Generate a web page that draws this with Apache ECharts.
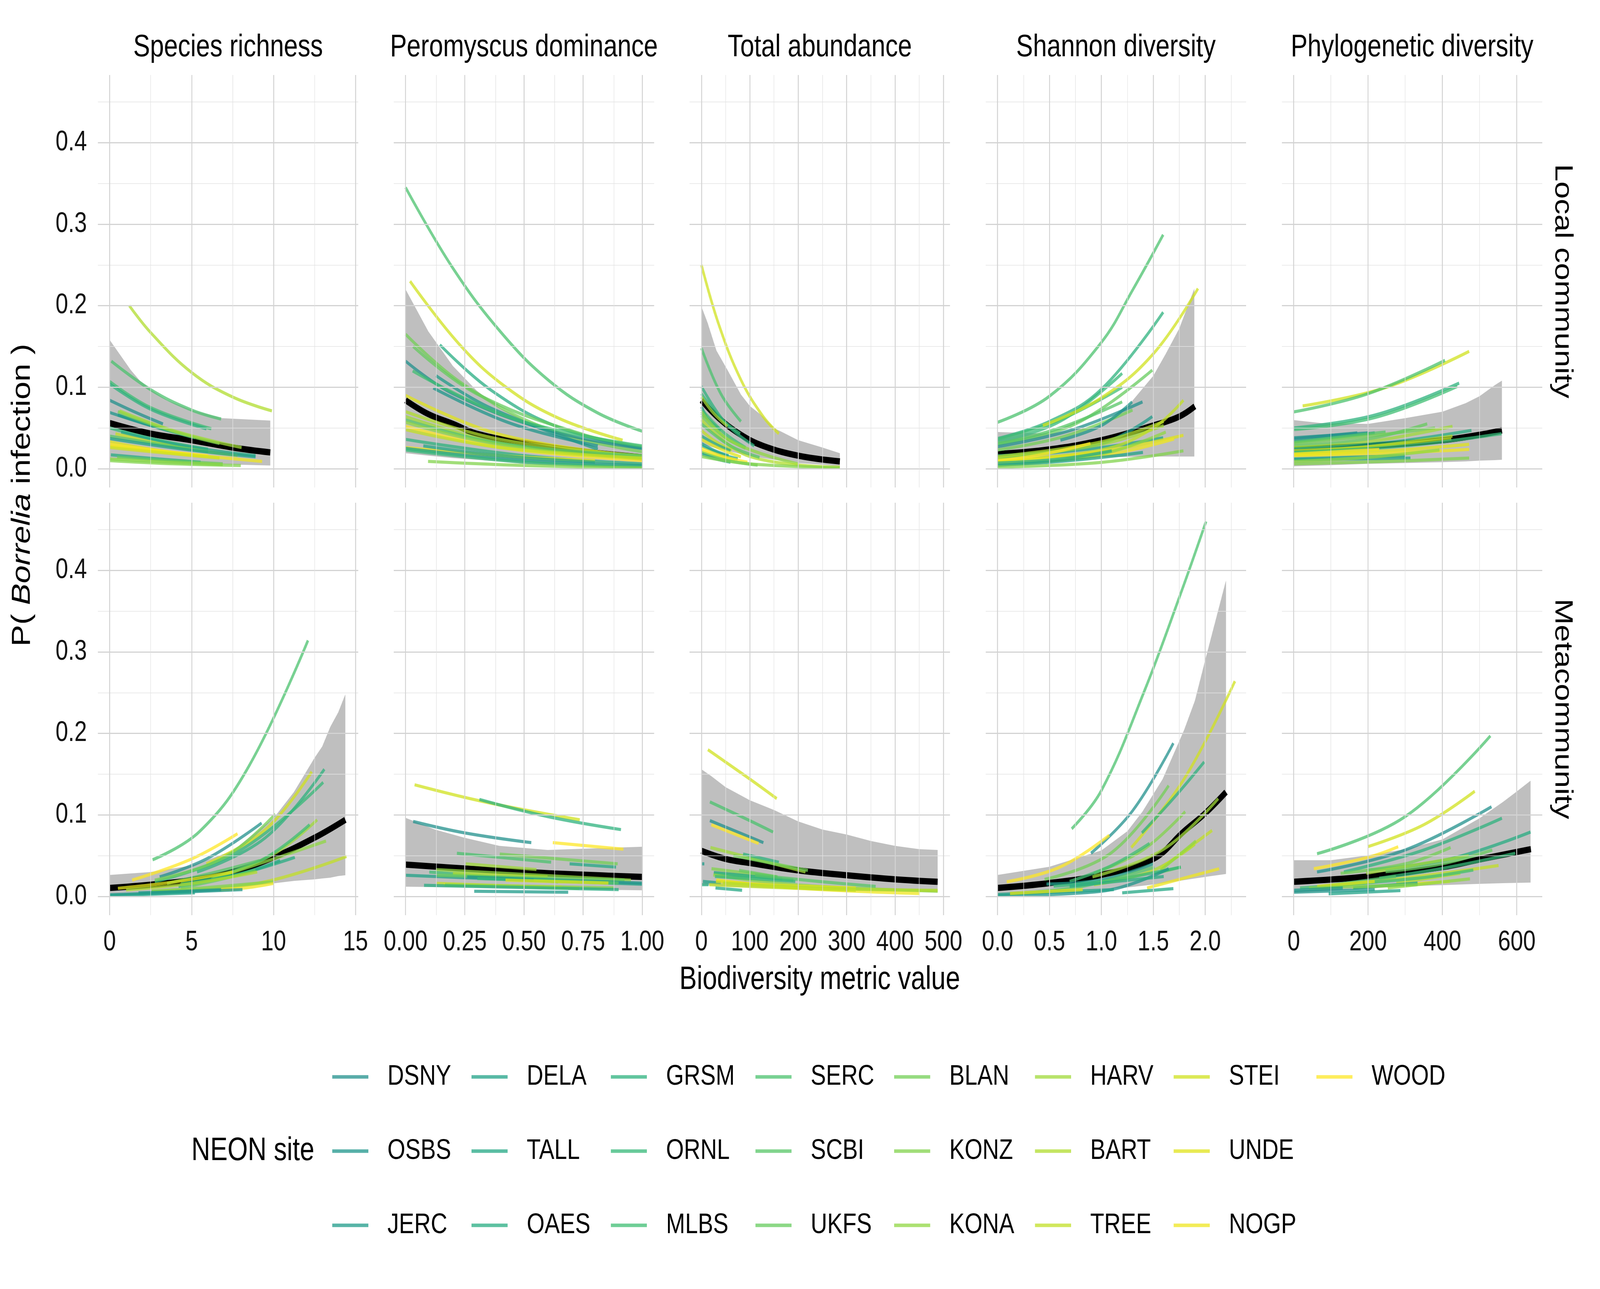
<!DOCTYPE html>
<html><head><meta charset="utf-8">
<script src="https://cdn.jsdelivr.net/npm/echarts@6/dist/echarts.min.js"></script>
<style>html,body{margin:0;padding:0;background:#fff;overflow:hidden}#wrap{position:absolute;left:0;top:0;overflow:hidden}#c{width:5100px;height:3300px;transform-origin:0 0}</style>
</head><body><div id="wrap"><div id="c"></div></div>
<script>
const sites = ['DSNY','OSBS','JERC','DELA','TALL','OAES','GRSM','ORNL','MLBS','SERC','SCBI','UKFS','BLAN','KONZ','KONA','HARV','BART','TREE','STEI','UNDE','NOGP','WOOD'];
const metrics = ['Species richness','Peromyscus dominance','Total abundance','Shannon diversity','Phylogenetic diversity'];
const scaleNames = ['Local community','Metacommunity'];
const xTickLabels = [[0,5,10,15],[0,0.25,0.5,0.75,1],[0,100,200,300,400,500],[0,0.5,1,1.5,2],[0,200,400,600]];
const xMinorTicks = [[2.5,7.5,12.5],[0.125,0.375,0.625,0.875],[50,150,250,350,450],[0.25,0.75,1.25,1.75,2.25],[100,300,500]];
const xRanges = [[-0.72,15.17],[-0.05,1.05],[-24.5,513.5],[-0.114,2.394],[-31.8,668.6]];
const yTickLabels = [0,0.1,0.2,0.3,0.4];
const yMinorTicks = [0.05,0.15,0.25,0.35,0.45];
const yRange = [-0.023,0.483];

// ---------------- Local community ----------------
const lrBand = [[0,0.012,0.158],[1.29,0.011,0.121],[1.84,0.0105,0.108],[2.5,0.010,0.097],[3.5,0.009,0.084],[5,0.007,0.072],[6.83,0.0055,0.062],[9.8,0.004,0.059]];
const lrMean = [[0,0.056],[2.5,0.043],[5,0.035],[7.5,0.026],[9.8,0.020]];
const lrLines = [
 ['BART',[1.2,0.200],[2.5,0.167],[5,0.118],[7.5,0.088],[9.9,0.071]],
 ['SERC',[0.1,0.132],[2.5,0.097],[5,0.072],[6.8,0.061]],
 ['MLBS',[0,0.107],[2.5,0.075],[6.2,0.049]],
 ['GRSM',[0,0.104],[2.5,0.073],[5.9,0.049]],
 ['ORNL',[0,0.050],[3,0.035],[6,0.024]],
 ['DSNY',[0,0.084],[1.6,0.069],[3.25,0.055]],
 ['OSBS',[0,0.069],[2,0.056],[3.6,0.047]],
 ['JERC',[0.5,0.066],[3,0.050],[5.2,0.038]],
 ['BLAN',[0.5,0.070],[3.5,0.048],[6.7,0.031]],
 ['HARV',[0.6,0.071],[4,0.046],[8.05,0.026]],
 ['TALL',[0.7,0.045],[4.5,0.028],[8.9,0.016]],
 ['TREE',[0.35,0.043],[4,0.027],[7.8,0.016]],
 ['SCBI',[0,0.040],[3,0.030],[6,0.021]],
 ['DELA',[0,0.037],[4.5,0.024],[8.9,0.0146]],
 ['UNDE',[0,0.033],[2.5,0.024],[5.5,0.016]],
 ['WOOD',[0,0.030],[3,0.022],[6,0.016]],
 ['NOGP',[0,0.028],[4.5,0.018],[9.3,0.009]],
 ['STEI',[0,0.026],[3.5,0.019],[6.7,0.013]],
 ['OAES',[0.07,0.017],[3,0.012],[5.55,0.008]],
 ['UKFS',[0.45,0.014],[3.5,0.010],[6.9,0.006]],
 ['KONA',[0,0.012],[3.5,0.008],[6.9,0.005]],
 ['KONZ',[0,0.010],[4,0.006],[8.0,0.004]]
];
const lpBand = [[0,0.019,0.220],[0.096,0.016,0.1685],[0.2,0.013,0.126],[0.3,0.011,0.096],[0.4,0.009,0.074],[0.5,0.006,0.060],[0.69,0.004,0.040],[1.0,0.001,0.025]];
const lpMean = [[0,0.084],[0.096,0.067],[0.2,0.055],[0.3,0.043],[0.5,0.0315],[0.69,0.023],[1.0,0.014]];
const lpLines = [
 ['SERC',[0,0.345],[0.2,0.246],[0.404,0.167],[0.606,0.108],[0.808,0.069],[1.0,0.046]],
 ['STEI',[0.019,0.230],[0.226,0.153],[0.42,0.101],[0.646,0.062],[0.917,0.035]],
 ['OAES',[0.145,0.152],[0.363,0.096],[0.646,0.051],[1,0.025]],
 ['BLAN',[0,0.165],[0.242,0.104],[0.606,0.048],[1,0.021]],
 ['UKFS',[0.032,0.150],[0.3,0.092],[0.75,0.042],[1,0.027]],
 ['DSNY',[0,0.132],[0.2,0.092],[0.606,0.047],[1,0.025]],
 ['JERC',[0.129,0.114],[0.363,0.074],[0.812,0.024]],
 ['OSBS',[0.117,0.099],[0.45,0.055],[0.812,0.028]],
 ['MLBS',[0.03,0.120],[0.45,0.062],[1,0.028]],
 ['UNDE',[0,0.090],[0.4,0.042],[1,0.015]],
 ['BART',[0,0.070],[0.4,0.036],[1,0.016]],
 ['HARV',[0,0.064],[0.4,0.032],[1,0.013]],
 ['SCBI',[0,0.060],[0.4,0.031],[1,0.016]],
 ['KONA',[0,0.057],[0.4,0.029],[1,0.012]],
 ['WOOD',[0,0.052],[0.4,0.026],[1,0.010]],
 ['TREE',[0,0.048],[0.4,0.026],[1,0.013]],
 ['GRSM',[0,0.036],[0.5,0.016],[1,0.006]],
 ['NOGP',[0,0.026],[0.4,0.016],[0.8,0.010]],
 ['TALL',[0.075,0.028],[0.4,0.016],[0.8,0.008]],
 ['DELA',[0,0.025],[0.5,0.010],[1,0.004]],
 ['ORNL',[0,0.023],[0.5,0.008],[1,0.002]],
 ['KONZ',[0.095,0.009],[0.5,0.004],[1,0.001]]
];
const laBand = [[0,0.030,0.199],[12.8,0.028,0.179],[31,0.025,0.145],[54,0.022,0.121],[81.6,0.018,0.091],[100,0.016,0.077],[127.5,0.013,0.064],[150,0.011,0.050],[200,0.007,0.035],[250,0.005,0.026],[286,0.003,0.019]];
const laMean = [[0,0.084],[35.8,0.062],[81.6,0.0416],[127.5,0.028],[200,0.016],[286,0.009]];
const laLines = [
 ['STEI',[0,0.250],[35.8,0.177],[81.6,0.109],[127.5,0.064],[160,0.043]],
 ['SERC',[0,0.148],[40,0.092],[81.6,0.058]],
 ['GRSM',[0,0.101],[50,0.056],[109,0.028]],
 ['ORNL',[0,0.092],[40,0.062],[80,0.043]],
 ['HARV',[0,0.088],[25,0.068],[54,0.052]],
 ['DSNY',[0,0.076],[12.8,0.060]],
 ['OSBS',[0,0.068],[20,0.057],[40,0.047]],
 ['MLBS',[0,0.073],[45,0.045],[91,0.026]],
 ['BLAN',[0,0.065],[45,0.040],[91,0.025]],
 ['KONA',[0,0.070],[60,0.034],[200,0.006]],
 ['BART',[0,0.060],[100,0.015],[286,0.002]],
 ['SCBI',[0,0.055],[60,0.028],[120,0.014]],
 ['TREE',[0,0.047],[30,0.033],[63,0.023]],
 ['OAES',[0,0.040],[30,0.030],[60,0.022]],
 ['UNDE',[0,0.036],[40,0.024],[81.6,0.0146]],
 ['JERC',[0,0.031],[28,0.022],[56,0.016]],
 ['TALL',[0,0.028],[40,0.018],[75,0.012]],
 ['WOOD',[0,0.025],[45,0.015],[95,0.008]],
 ['NOGP',[0,0.022],[35,0.015],[70,0.010]],
 ['UKFS',[0,0.020],[55,0.010],[116,0.0044]],
 ['DELA',[0,0.018],[30,0.012],[60,0.008]],
 ['KONZ',[0,0.015],[100,0.006],[286,0.001]]
];
const lsBand = [[0,0.013,0.045],[0.5,0.013,0.043],[1.0,0.014,0.053],[1.257,0.0145,0.077],[1.5,0.015,0.114],[1.62,0.015,0.141],[1.75,0.015,0.172],[1.895,0.015,0.221]];
const lsMean = [[0,0.018],[0.5,0.0237],[1.0,0.035],[1.5,0.053],[1.75,0.064],[1.9,0.0765]];
const lsLines = [
 ['SERC',[0,0.057],[0.5,0.089],[1.0,0.155],[1.3,0.219],[1.595,0.287]],
 ['GRSM',[0,0.037],[0.5,0.058],[1.0,0.0975],[1.595,0.192]],
 ['ORNL',[0,0.033],[0.6,0.058],[1.2,0.117]],
 ['MLBS',[0,0.036],[0.6,0.060],[1.2,0.100]],
 ['STEI',[0.436,0.053],[1.0,0.087],[1.5,0.141],[1.93,0.221]],
 ['UKFS',[0,0.031],[0.75,0.055],[1.49,0.121]],
 ['BLAN',[0,0.023],[0.65,0.040],[1.3,0.072]],
 ['SCBI',[0,0.030],[0.6,0.050],[1.2,0.082]],
 ['DSNY',[0,0.027],[0.7,0.047],[1.396,0.082]],
 ['OSBS',[0.605,0.035],[1.0,0.053],[1.296,0.082]],
 ['JERC',[0,0.016],[1.0,0.031],[1.49,0.064]],
 ['TALL',[0,0.0135],[1.0,0.026],[1.595,0.038]],
 ['HARV',[0,0.013],[1.0,0.030],[1.6,0.053]],
 ['BART',[0,0.015],[1.0,0.033],[1.6,0.058]],
 ['TREE',[0,0.011],[1.0,0.023],[1.5,0.050],[1.79,0.084]],
 ['WOOD',[0,0.0095],[0.45,0.018],[0.894,0.031]],
 ['UNDE',[0,0.008],[1.0,0.021],[1.79,0.041]],
 ['NOGP',[0,0.006],[1.0,0.016],[1.70,0.0365]],
 ['KONA',[0,0.0044],[1.0,0.018],[1.62,0.045]],
 ['OAES',[0,0.007],[0.6,0.012],[1.1,0.022]],
 ['DELA',[0,0.004],[0.7,0.010],[1.4,0.020]],
 ['KONZ',[0,0.002],[1.0,0.0078],[1.79,0.022]]
];
const lphBand = [[0,0.003,0.0596],[75,0.004,0.056],[200,0.006,0.055],[300,0.007,0.062],[400,0.008,0.070],[463,0.009,0.0805],[500,0.010,0.089],[541,0.0105,0.1025],[560,0.011,0.108]];
const lphMean = [[0,0.0237],[200,0.028],[400,0.035],[500,0.0416],[560,0.047]];
const lphLines = [
 ['STEI',[24,0.077],[250,0.100],[472,0.144]],
 ['SERC',[0,0.0697],[200,0.092],[407,0.133]],
 ['GRSM',[0,0.050],[220,0.066],[445,0.105]],
 ['MLBS',[0,0.048],[220,0.063],[440,0.101]],
 ['OSBS',[0,0.038],[100,0.041],[200,0.044]],
 ['DSNY',[0,0.0365],[171,0.044]],
 ['JERC',[0,0.033],[218,0.044]],
 ['SCBI',[0,0.0325],[247,0.045]],
 ['BLAN',[0,0.031],[200,0.040],[380,0.050]],
 ['UKFS',[0,0.028],[200,0.0365],[359,0.055]],
 ['HARV',[0,0.026],[200,0.033],[427,0.052]],
 ['OAES',[0,0.024],[250,0.032],[478,0.047]],
 ['TREE',[0,0.022],[200,0.027],[424,0.0365]],
 ['BART',[0,0.020],[200,0.027],[427,0.040]],
 ['ORNL',[0,0.020],[300,0.028],[559,0.043]],
 ['WOOD',[0,0.018],[230,0.0237]],
 ['UNDE',[0,0.017],[250,0.022],[472,0.030]],
 ['NOGP',[0,0.016],[250,0.019],[472,0.0237]],
 ['DELA',[0,0.012],[150,0.014],[300,0.016]],
 ['TALL',[0,0.011],[314,0.013]],
 ['KONA',[0,0.009],[200,0.014],[392,0.023]],
 ['KONZ',[0,0.006],[250,0.009],[472,0.013]]
];

// ---------------- Metacommunity ----------------
const mrBand = [[0,0.001,0.0264],[2.5,0.003,0.030],[5,0.006,0.038],[7.5,0.010,0.056],[10,0.016,0.096],[11.24,0.019,0.128],[12.5,0.021,0.170],[12.97,0.022,0.184],[13.46,0.023,0.208],[13.95,0.025,0.226],[14.38,0.026,0.248]];
const mrMean = [[0,0.0104],[2.5,0.0144],[5,0.020],[7.5,0.030],[10,0.048],[12.5,0.072],[14.38,0.094]];
const mrLines = [
 ['SERC',[2.62,0.045],[5.5,0.080],[8.5,0.160],[12.1,0.314]],
 ['WOOD',[1.37,0.020],[5,0.046],[7.8,0.077]],
 ['DSNY',[3.05,0.024],[6,0.047],[9.27,0.090]],
 ['STEI',[5.9,0.040],[9.5,0.082],[12.33,0.153]],
 ['GRSM',[5.33,0.030],[9.5,0.072],[13.1,0.156]],
 ['ORNL',[2.75,0.018],[8,0.057],[13.03,0.140]],
 ['BLAN',[2.75,0.020],[7,0.048],[10.1,0.101]],
 ['HARV',[6.3,0.022],[10,0.052],[12.66,0.094]],
 ['MLBS',[4.35,0.016],[9,0.042],[12.2,0.088]],
 ['KONA',[6.2,0.021],[10,0.046],[13.2,0.068]],
 ['SCBI',[3.5,0.016],[6.5,0.030],[9.15,0.044]],
 ['TALL',[4.3,0.0144],[8,0.028],[10.4,0.044]],
 ['OAES',[4.2,0.0124],[8,0.028],[11.3,0.048]],
 ['UKFS',[4.35,0.0104],[7,0.022],[8.9,0.032]],
 ['UNDE',[0.5,0.010],[4,0.018],[7.5,0.030]],
 ['BART',[1.0,0.008],[5,0.016],[9,0.030]],
 ['TREE',[2.56,0.0064],[9,0.016],[14.45,0.049]],
 ['KONZ',[2.56,0.0064],[6,0.011],[10,0.018]],
 ['NOGP',[6.7,0.008],[8.5,0.011],[10,0.016]],
 ['JERC',[1.76,0.0044],[4,0.006],[6.8,0.0084]],
 ['OSBS',[0,0.002],[4,0.005],[8.1,0.0084]],
 ['DELA',[0,0.001],[3,0.003],[5.2,0.0044]]
];
const mpBand = [[0,0.012,0.0964],[0.124,0.0115,0.082],[0.249,0.011,0.072],[0.396,0.010,0.062],[0.6,0.009,0.057],[1,0.0076,0.061]];
const mpMean = [[0,0.039],[0.5,0.030],[1,0.024]];
const mpLines = [
 ['STEI',[0.038,0.137],[0.35,0.115],[0.736,0.094]],
 ['GRSM',[0.312,0.119],[0.6,0.098],[0.91,0.082]],
 ['DSNY',[0.032,0.092],[0.249,0.078],[0.531,0.066]],
 ['WOOD',[0.622,0.066],[0.92,0.058]],
 ['SERC',[0.217,0.053],[0.615,0.042]],
 ['BLAN',[0.398,0.052],[0.896,0.040]],
 ['TALL',[0.693,0.040],[0.889,0.036]],
 ['HARV',[0.254,0.040],[0.553,0.033]],
 ['KONA',[0.128,0.033],[0.952,0.020]],
 ['MLBS',[0.1,0.030],[0.644,0.018]],
 ['BART',[0.2,0.028],[0.6,0.024]],
 ['DELA',[0,0.026],[0.5,0.020],[1,0.015]],
 ['UKFS',[0.132,0.026],[0.925,0.020]],
 ['OSBS',[0.26,0.024],[1,0.0164]],
 ['ORNL',[0.303,0.022],[0.729,0.018]],
 ['SCBI',[0.541,0.020],[0.9,0.0164]],
 ['UNDE',[0.422,0.020],[0.857,0.0164]],
 ['TREE',[0.132,0.016],[0.733,0.010]],
 ['NOGP',[0.163,0.0144],[0.66,0.0116]],
 ['KONZ',[0.166,0.0144],[0.878,0.0104]],
 ['OAES',[0.078,0.0136],[0.9,0.0084]],
 ['JERC',[0.29,0.0064],[0.687,0.0052]]
];
const maBand = [[0,0.014,0.156],[19.6,0.0135,0.148],[50,0.012,0.134],[100,0.011,0.118],[150,0.010,0.106],[200,0.009,0.092],[250,0.008,0.082],[300,0.007,0.076],[350,0.0065,0.068],[400,0.006,0.062],[450,0.0055,0.058],[488,0.005,0.057]];
const maMean = [[0,0.056],[50,0.046],[100,0.041],[200,0.032],[300,0.026],[400,0.021],[488,0.018]];
const maLines = [
 ['STEI',[13.3,0.180],[100,0.144],[155.6,0.120]],
 ['SERC',[17.5,0.116],[100,0.093],[148,0.079]],
 ['DSNY',[17.5,0.093],[128,0.066]],
 ['WOOD',[20.4,0.088],[118,0.065]],
 ['HARV',[18.7,0.060],[215,0.030]],
 ['GRSM',[86,0.052],[160,0.042]],
 ['BLAN',[66,0.050],[220,0.032]],
 ['JERC',[0,0.040],[6,0.040]],
 ['KONZ',[20.8,0.034],[157,0.024]],
 ['UKFS',[77.8,0.032],[156.7,0.024]],
 ['OSBS',[25.7,0.0292],[167,0.0212]],
 ['MLBS',[25.7,0.0284],[190,0.020]],
 ['KONA',[24.5,0.0264],[200,0.014],[488,0.0064]],
 ['SCBI',[111,0.0264],[250,0.018],[360,0.0124]],
 ['ORNL',[27.9,0.0244],[100,0.022],[194,0.0184]],
 ['NOGP',[30.8,0.0204],[200,0.010],[451,0.0036]],
 ['DELA',[3,0.0184],[40,0.0164]],
 ['UNDE',[29.9,0.0184],[150,0.014],[319,0.0104]],
 ['BART',[44.5,0.0164],[250,0.010],[488,0.0076]],
 ['TREE',[16.2,0.0144],[150,0.011],[319,0.0076]],
 ['OAES',[0,0.0144],[14.6,0.0144]],
 ['TALL',[29,0.0104],[84,0.0076]]
];
const msBand = [[0,0,0.0264],[0.5,0.004,0.0364],[1.0,0.0084,0.0564],[1.25,0.011,0.080],[1.395,0.013,0.104],[1.59,0.016,0.144],[1.796,0.020,0.204],[1.9,0.022,0.240],[2.0,0.024,0.290],[2.2,0.0276,0.3876]];
const msMean = [[0,0.0104],[0.5,0.0164],[1.0,0.0264],[1.5,0.046],[1.796,0.080],[2.0,0.102],[2.2,0.128]];
const msLines = [
 ['SERC',[0.714,0.083],[1.0,0.130],[1.414,0.252],[1.765,0.372],[2.008,0.46]],
 ['DSNY',[0.9,0.053],[1.3,0.105],[1.693,0.188]],
 ['STEI',[1.288,0.060],[1.796,0.144],[2.286,0.264]],
 ['GRSM',[1.39,0.078],[1.706,0.122],[1.99,0.165]],
 ['WOOD',[0.088,0.018],[0.6,0.036],[1.076,0.075]],
 ['BLAN',[0.453,0.021],[1.1,0.054],[1.648,0.136]],
 ['KONZ',[0.928,0.0284],[1.4,0.057],[1.807,0.104]],
 ['MLBS',[0.694,0.0184],[1.1,0.038],[1.463,0.065]],
 ['HARV',[0.914,0.024],[1.6,0.058],[2.125,0.120]],
 ['BART',[0.928,0.0144],[1.5,0.032],[1.9,0.064]],
 ['TREE',[1.57,0.034],[2.066,0.081]],
 ['KONA',[1.57,0.032],[1.91,0.068]],
 ['UKFS',[1.512,0.028],[1.765,0.036]],
 ['JERC',[0.471,0.0152],[1.0,0.0204],[1.5,0.040]],
 ['ORNL',[0.54,0.0124],[1.1,0.020],[1.765,0.036]],
 ['SCBI',[0.12,0.0036],[0.8,0.012],[1.51,0.036]],
 ['OSBS',[0,0.0012],[1.0,0.0064],[1.648,0.034]],
 ['NOGP',[1.44,0.0104],[2.134,0.034]],
 ['OAES',[0.694,0.0124],[1.6,0.0244]],
 ['TALL',[1.2,0.0044],[1.693,0.0096]],
 ['DELA',[0,0.0024],[1.12,0.0084]],
 ['UNDE',[0.12,0.0036],[0.82,0.0084]]
];
const mphBand = [[0,0.0044,0.0444],[100,0.007,0.0444],[200,0.0097,0.0504],[300,0.0124,0.058],[400,0.0139,0.070],[500,0.0154,0.096],[563,0.0163,0.116],[598,0.0167,0.128],[637,0.017,0.142]];
const mphMean = [[0,0.018],[200,0.0244],[400,0.036],[506,0.046],[638,0.058]];
const mphLines = [
 ['SERC',[62.7,0.0524],[300,0.098],[529,0.197]],
 ['STEI',[199,0.061],[350,0.088],[487,0.129]],
 ['WOOD',[54,0.034],[200,0.048],[281,0.061]],
 ['DSNY',[62.7,0.030],[300,0.057],[532,0.110]],
 ['GRSM',[135,0.030],[350,0.057],[560,0.096]],
 ['OAES',[200,0.0324],[420,0.046],[637,0.079]],
 ['BLAN',[126,0.0284],[300,0.040],[422,0.060]],
 ['HARV',[195,0.0284],[471,0.050]],
 ['UKFS',[247,0.0304],[400,0.040],[534,0.057]],
 ['ORNL',[230,0.0224],[400,0.0344],[596,0.053]],
 ['BART',[276,0.0164],[448,0.0284]],
 ['TREE',[74,0.0104],[400,0.0284],[551,0.038]],
 ['MLBS',[17,0.0104],[333,0.0224],[483,0.0324]],
 ['SCBI',[74,0.0124],[275,0.0244]],
 ['UNDE',[63,0.0124],[218,0.0184]],
 ['NOGP',[158,0.0104],[420,0.0184]],
 ['KONA',[253,0.0104],[474,0.0216]],
 ['TALL',[160,0.0104],[333,0.0164]],
 ['KONZ',[41,0.0104],[333,0.0144]],
 ['JERC',[0,0.0076],[132,0.0104]],
 ['OSBS',[0,0.0052],[218,0.0084]],
 ['DELA',[94,0.0032],[287,0.0072]]
];

const panelBands = [lrBand,lpBand,laBand,lsBand,lphBand,mrBand,mpBand,maBand,msBand,mphBand];
const panelMeans = [lrMean,lpMean,laMean,lsMean,lphMean,mrMean,mpMean,maMean,msMean,mphMean];
const panelLines = [lrLines,lpLines,laLines,lsLines,lphLines,mrLines,mpLines,maLines,msLines,mphLines];

// ---------------- fit the 5100x3300 design to the actual viewport ----------------
const vw = document.documentElement.clientWidth || window.innerWidth || 5100;
const vh = document.documentElement.clientHeight || window.innerHeight || 3300;
const SX = vw/5100, SY = vh/3300;
const wrap = document.getElementById('wrap'), el = document.getElementById('c');
wrap.style.width = vw+'px'; wrap.style.height = vh+'px';
el.style.transform = 'scale('+SX+','+SY+')';

// ---------------- styling / layout ----------------
const FONT = "'Liberation Sans', Arial, Helvetica, sans-serif";
const VIR = ['#440154','#481568','#482677','#453781','#3F4788','#39558C','#32648E','#2D718E','#287D8E','#238A8D','#1F968B','#20A386','#29AF7F','#3CBC75','#56C667','#75D054','#95D840','#BADE28','#DDE318','#FDE725'];
function hexRgb(h){return [1,3,5].map(i=>parseInt(h.substr(i,2),16));}
function viridis(t){const p=t*(VIR.length-1);const i=Math.min(Math.floor(p),VIR.length-2);const f=p-i;const a=hexRgb(VIR[i]),b=hexRgb(VIR[i+1]);return a.map((v,k)=>Math.round(v+(b[k]-v)*f));}
const siteColor = {};
sites.forEach((s,i)=>{const c=viridis(0.5+0.5*i/(sites.length-1));siteColor[s]=`rgba(${c[0]},${c[1]},${c[2]},0.75)`;});

const colLeft = [312,1255,2198,3142,4086];
const rowTop = [192,1287];
const PW = 830, PH = 1056;

const grids=[],xAxes=[],yAxes=[],series=[];
for(let r=0;r<2;r++){
  for(let c=0;c<5;c++){
    const idx=r*5+c;
    grids.push({left:colLeft[c],top:rowTop[r],width:PW,height:PH,containLabel:false});
    const fmtX = c===1?(v=>Number(v).toFixed(2)):(c===3?(v=>Number(v).toFixed(1)):(v=>String(v)));
    const xa = {type:'value',gridIndex:idx,min:xRanges[c][0],max:xRanges[c][1],
      axisLine:{show:false},axisTick:{show:false},splitLine:{show:false},minorSplitLine:{show:false},
      axisLabel:{show:r===1,customValues:xTickLabels[c],formatter:fmtX,fontSize:72,fontFamily:FONT,color:'#111',margin:34}};
    if(idx===7){xa.name='Biodiversity metric value';xa.nameLocation='middle';xa.nameGap=125;xa.nameTextStyle={fontSize:83,fontFamily:FONT,color:'#000'};}
    xAxes.push(xa);
    yAxes.push({type:'value',gridIndex:idx,min:yRange[0],max:yRange[1],
      axisLine:{show:false},axisTick:{show:false},splitLine:{show:false},
      axisLabel:{show:c===0,customValues:yTickLabels,formatter:v=>Number(v).toFixed(1),fontSize:72,fontFamily:FONT,color:'#111',margin:35}});
    const md=[];
    yTickLabels.forEach(v=>md.push({yAxis:v,lineStyle:{color:'#d3d3d3',width:3,type:'solid'}}));
    yMinorTicks.forEach(v=>md.push({yAxis:v,lineStyle:{color:'#e3e3e3',width:1.6,type:'solid'}}));
    xTickLabels[c].forEach(v=>md.push({xAxis:v,lineStyle:{color:'#d3d3d3',width:3,type:'solid'}}));
    xMinorTicks[c].forEach(v=>md.push({xAxis:v,lineStyle:{color:'#e3e3e3',width:1.6,type:'solid'}}));
    series.push({type:'line',name:'grid'+idx,xAxisIndex:idx,yAxisIndex:idx,data:[],silent:true,z:1,
      markLine:{silent:true,symbol:['none','none'],label:{show:false},animation:false,data:md}});
    const band = panelBands[idx];
    series.push({type:'custom',name:'band'+idx,xAxisIndex:idx,yAxisIndex:idx,z:2,silent:true,
      data:band,encode:{x:0,y:[1,2]},
      renderItem:(params,api)=>{
        if(params.dataIndex!==0) return null;
        const up=band.map(d=>api.coord([d[0],d[2]]));
        const lo=band.slice().reverse().map(d=>api.coord([d[0],d[1]]));
        return {type:'polygon',shape:{points:up.concat(lo)},style:{fill:'rgba(127,127,127,0.5)'}};
      }});
    series.push({type:'line',name:'mean'+idx,xAxisIndex:idx,yAxisIndex:idx,z:3,silent:true,
      data:panelMeans[idx],smooth:0.4,showSymbol:false,symbol:'none',
      lineStyle:{color:'#000',width:16,cap:'butt'}});
    panelLines[idx].forEach(row=>{
      const s=row[0];
      series.push({type:'line',name:s,xAxisIndex:idx,yAxisIndex:idx,z:4,silent:true,
        data:row.slice(1),smooth:0.4,showSymbol:false,symbol:'none',
        color:siteColor[s],lineStyle:{color:siteColor[s],width:8,cap:'butt'}});
    });
  }
}

const legendCols=[['DSNY','OSBS','JERC'],['DELA','TALL','OAES'],['GRSM','ORNL','MLBS'],['SERC','SCBI','UKFS'],['BLAN','KONZ','KONA'],['HARV','BART','TREE'],['STEI','UNDE','NOGP'],['WOOD']];
const legendX=[1059,1503,1947,2408,2850,3299,3741,4196];
const legends=legendCols.map((names,i)=>({orient:'vertical',left:legendX[i],top:2717,padding:0,
  itemWidth:115,itemHeight:9,itemGap:110,icon:'rect',selectedMode:false,
  data:names.map(n=>({name:n,itemStyle:{color:siteColor[n]}})),
  textStyle:{fontSize:73,lineHeight:80,color:'#000',fontFamily:FONT,padding:[0,0,0,56]}}));

const graphics=[];
metrics.forEach((m,c)=>graphics.push({type:'text',x:colLeft[c]+PW/2,y:122,silent:true,
  style:{text:m,fontSize:80,fontFamily:FONT,fill:'#000',align:'center',verticalAlign:'middle'}}));
scaleNames.forEach((s,r)=>graphics.push({type:'text',x:4980,y:rowTop[r]+PH/2,rotation:-Math.PI/2,silent:true,
  style:{text:s,fontSize:80,fontFamily:FONT,fill:'#000',align:'center',verticalAlign:'middle'}}));
graphics.push({type:'text',x:72,y:(rowTop[0]+rowTop[1]+PH)/2,rotation:Math.PI/2,silent:true,
  style:{text:'{a|P( }{b|Borrelia}{a| infection )}',align:'center',verticalAlign:'middle',
    rich:{a:{fontSize:83,fontFamily:FONT,fill:'#000'},b:{fontSize:83,fontFamily:FONT,fontStyle:'italic',fill:'#000'}}}});
graphics.push({type:'text',x:610,y:2947,silent:true,
  style:{text:'NEON site',fontSize:83,fontFamily:FONT,fill:'#000',align:'left',verticalAlign:'middle'}});

const dpr = (window.devicePixelRatio||1)*Math.max(SX,SY);
const chart=echarts.init(el,null,{renderer:'canvas',devicePixelRatio:dpr,width:5100,height:3300});
chart.setOption({backgroundColor:'#fff',animation:false,grid:grids,xAxis:xAxes,yAxis:yAxes,series:series,legend:legends,graphic:graphics});
</script></body></html>
